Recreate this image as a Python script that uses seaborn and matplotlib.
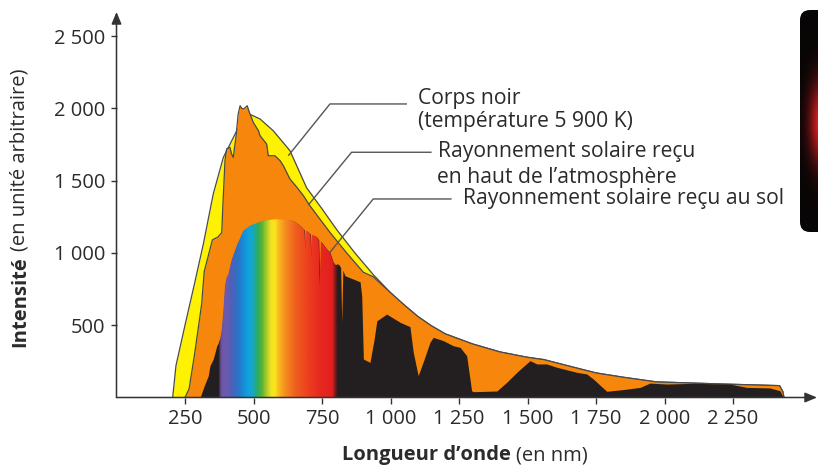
import numpy as np
import pandas as pd
import matplotlib
matplotlib.use("Agg")
import matplotlib.pyplot as plt
import seaborn as sns
from matplotlib.patches import FancyBboxPatch
from matplotlib.colors import to_rgb

# ---------------- data ----------------
tail_nm = [1000, 1050, 1100, 1150, 1200, 1300, 1400, 1500, 1560, 1650, 1750,
           1850, 1970, 2100, 2215, 2420, 2432, 2436]
tail_val = [725, 640, 560, 495, 440, 370, 315, 278, 262, 218, 170,
            140, 108, 100, 93, 82, 40, 0]

# black body (5 900 K)
bb_nm = [205, 217, 250, 285, 317, 353, 390, 439, 480, 524, 572, 633, 694,
         750, 804, 870, 937] + tail_nm
bb_val = [0, 220, 500, 790, 1062, 1407, 1661, 1845, 1965, 1926, 1845, 1707,
          1450, 1305, 1160, 1000, 850] + tail_val

# solar radiation at the top of the atmosphere
toa_nm = [250, 265, 285, 300, 311, 320, 350, 370, 384, 390, 396, 402, 414,
          420, 426, 436, 444, 451, 457, 463, 470, 477, 485, 499, 518, 524,
          548, 554, 578, 597, 609, 633, 660, 682, 706, 740, 779, 840, 901,
          937] + tail_nm
toa_val = [0, 60, 300, 500, 650, 870, 1090, 1110, 1140, 1400, 1640, 1720,
           1730, 1684, 1661, 1800, 1960, 2018, 2000, 1995, 2005, 2018, 1972,
           1903, 1845, 1810, 1753, 1672, 1672, 1638, 1603, 1511, 1450, 1396,
           1326, 1240, 1142, 1000, 866, 835] + tail_val

# solar radiation at ground level
gnd_nm = [305, 320, 335, 341, 353, 366, 372, 378, 384, 390, 396, 402, 408,
          420, 439, 463, 487, 536, 585, 620, 645, 670, 682, 686, 689, 692,
          708, 711, 714, 731, 738, 742, 746, 767, 779, 791, 800, 810, 818,
          822, 826, 834, 889, 895, 901, 925, 940, 950, 986, 1035, 1071, 1083,
          1101, 1120, 1144, 1156, 1193, 1229, 1254, 1278, 1296, 1302, 1388,
          1424, 1461, 1509, 1534, 1570, 1607, 1680, 1716, 1740, 1789, 1850,
          1911, 1947, 2008, 2105, 2239, 2300, 2385, 2421, 2434]
gnd_val = [0, 80, 151, 220, 266, 358, 381, 400, 470, 600, 773, 831, 850,
           950, 1050, 1153, 1188, 1223, 1234, 1230, 1223, 1190, 1165, 1160,
           1030, 1155, 1130, 970, 1125, 1110, 1090, 775, 1080, 1027, 1004,
           935, 915, 923, 900, 520, 880, 842, 800, 700, 266, 243, 400, 530,
           577, 520, 490, 313, 151, 250, 382, 416, 393, 358, 347, 289, 47,
           40, 45, 105, 174, 255, 232, 232, 209, 174, 163, 128, 43, 55, 70,
           100, 93, 98, 93, 70, 66, 47, 0]

x_ticks = [250, 500, 750, 1000, 1250, 1500, 1750, 2000, 2250]
x_labels = ["250", "500", "750", "1 000", "1 250", "1 500", "1 750", "2 000", "2 250"]
y_ticks = [500, 1000, 1500, 2000, 2500]
y_labels = ["500", "1 000", "1 500", "2 000", "2 500"]

# visible spectrum colour ramp (nm, colour)
spec_nm = [373, 382, 400, 421, 443, 465, 480, 500, 515, 530, 545, 562, 575,
           593, 615, 650, 700, 745, 785, 800, 806]
spec_col = ["#3a2a50", "#6f55a5", "#6a5bb0", "#4a62ba", "#2874c6", "#1591d8",
            "#10a2e2", "#1aa8b0", "#2eac5a", "#5bb434", "#a8c92c", "#f0e324",
            "#fbe71c", "#f9b51f", "#f58b1f", "#f0601f", "#ec3d1f", "#e62720",
            "#e41f1f", "#5a1a1a", "#231f20"]

# ---------------- figure ----------------
W, H = 818, 468
sns.set_theme(style="white")
plt.rcParams['font.family'] = ['Open Sans', 'DejaVu Sans']
FS_TICK = 14.5
FS_LAB = 14.5
FS_ANN = 15.2
TXT = "#2b2b2b"

fig = plt.figure(figsize=(W / 100, H / 100), dpi=100)
x0_px, y0_px = 116.5, 397.5
px_per_nm, px_per_unit = 0.274, 0.1446
xmax = (817 - x0_px) / px_per_nm
ymax = (y0_px - 12) / px_per_unit
ax = fig.add_axes([x0_px / W, (H - y0_px) / H, (817 - x0_px) / W, (y0_px - 12) / H])

YELLOW = "#fff200"
ORANGE = "#f7860c"
BLACK = "#231f20"
EDGE = "#4a4a4a"

ax.fill_between(bb_nm, bb_val, 0, color=YELLOW, lw=0, zorder=1)
ax.fill_between(toa_nm, toa_val, 0, color=ORANGE, lw=0, zorder=2)
gfill = ax.fill_between(gnd_nm, gnd_val, 0, color=BLACK, lw=0, zorder=3)

df_bb = pd.DataFrame({"nm": bb_nm, "val": bb_val})
df_toa = pd.DataFrame({"nm": toa_nm, "val": toa_val})
sns.lineplot(data=df_bb, x="nm", y="val", ax=ax, color=EDGE, lw=0.9, zorder=1.5,
             sort=False, estimator=None)
sns.lineplot(data=df_toa, x="nm", y="val", ax=ax, color=EDGE, lw=0.9, zorder=2.5,
             sort=False, estimator=None)

# rainbow inside the ground curve
lam = np.linspace(spec_nm[0], spec_nm[-1], 600)
rgb = np.array([to_rgb(c) for c in spec_col])
ramp = np.stack([np.interp(lam, spec_nm, rgb[:, k]) for k in range(3)], axis=-1)
img = np.repeat(ramp[None, :, :], 4, axis=0)
im = ax.imshow(img, extent=[spec_nm[0], spec_nm[-1], 0, 1400], aspect='auto',
               origin='lower', zorder=4, interpolation='bilinear')
im.set_clip_path(gfill.get_paths()[0], transform=ax.transData)

ax.set_xlim(0, xmax)
ax.set_ylim(0, ymax)
ax.set_xlabel("")
ax.set_ylabel("")
for s in ax.spines.values():
    s.set_visible(False)

ax.set_xticks(x_ticks)
ax.set_xticklabels(x_labels)
ax.set_yticks(y_ticks)
ax.set_yticklabels(y_labels)
ax.tick_params(axis='both', direction='out', length=4.5, width=1.0, color="#333333",
               labelsize=FS_TICK, labelcolor=TXT, pad=3.5)
ax.tick_params(axis='x', bottom=True)
ax.tick_params(axis='y', left=True)

# axes with arrows
ax.annotate("", xy=(1.0, 0), xytext=(0, 0), xycoords='axes fraction',
            arrowprops=dict(arrowstyle='-|>,head_length=0.6,head_width=0.25',
                            color="#333333", lw=1.1, shrinkA=0, shrinkB=0), zorder=6)
ax.annotate("", xy=(0, 1.0), xytext=(0, 0), xycoords='axes fraction',
            arrowprops=dict(arrowstyle='-|>,head_length=0.6,head_width=0.25',
                            color="#333333", lw=1.1, shrinkA=0, shrinkB=0), zorder=6)

# leader lines and labels
LC = "#555555"
ax.plot([1060, 779, 627], [2030, 2030, 1672], color=LC, lw=1.0, zorder=7, solid_capstyle='butt')
ax.plot([1150, 858, 700], [1696, 1696, 1331], color=LC, lw=1.0, zorder=7, solid_capstyle='butt')
ax.plot([1223, 937, 779], [1373, 1373, 1004], color=LC, lw=1.0, zorder=7, solid_capstyle='butt')

ax.text(1100, 2071, "Corps noir", fontsize=FS_ANN, color=TXT, va='center', ha='left')
ax.text(1100, 1912, "(température 5 900 K)", fontsize=FS_ANN, color=TXT, va='center', ha='left')
ax.text(1173, 1698, "Rayonnement solaire reçu", fontsize=FS_ANN, color=TXT, va='center', ha='left')
ax.text(1170, 1518, "en haut de l’atmosphère", fontsize=FS_ANN, color=TXT, va='center', ha='left')
ax.text(1265, 1373, "Rayonnement solaire reçu au sol", fontsize=FS_ANN, color=TXT, va='center', ha='left')

# axis titles with bold + regular parts
fig.canvas.draw()
rend = fig.canvas.get_renderer()
t1 = fig.text(342 / W, 1 - 455 / H, "Longueur d’onde", fontsize=FS_LAB, weight='bold',
              color=TXT, ha='left', va='center')
bb1 = t1.get_window_extent(rend)
fig.text((bb1.x1 + 5) / W, 1 - 455 / H, "(en nm)", fontsize=FS_LAB, color=TXT,
         ha='left', va='center')
t2 = fig.text(20 / W, 1 - 347 / H, "Intensité", fontsize=FS_LAB, weight='bold',
              color=TXT, ha='center', va='bottom', rotation=90)
bb2 = t2.get_window_extent(rend)
fig.text(20 / W, (bb2.y1 + 5) / H, "(en unité arbitraire)", fontsize=FS_LAB, color=TXT,
         ha='center', va='bottom', rotation=90)

# decorative dark panel on the right edge
bx = fig.add_axes([800 / W, (H - 232) / H, 40 / W, 222 / H])
bx.set_axis_off()
yy, xx = np.mgrid[0:222, 0:40]
g = np.exp(-((xx - 21) / 12.0) ** 2 - ((yy - 112) / 40.0) ** 2)
panel = np.stack([0.03 + 0.88 * g, 0.02 + 0.10 * g, 0.02 + 0.11 * g], axis=-1)
pim = bx.imshow(panel, extent=[0, 40, 0, 222], origin='upper', aspect='auto')
bx.set_xlim(0, 40)
bx.set_ylim(0, 222)
clip = FancyBboxPatch((0, 0), 60, 222, boxstyle="round,pad=0,rounding_size=10",
                      transform=bx.transData, facecolor='none', edgecolor='none')
bx.add_patch(clip)
pim.set_clip_path(clip)

fig.savefig("out.png", dpi=100)
